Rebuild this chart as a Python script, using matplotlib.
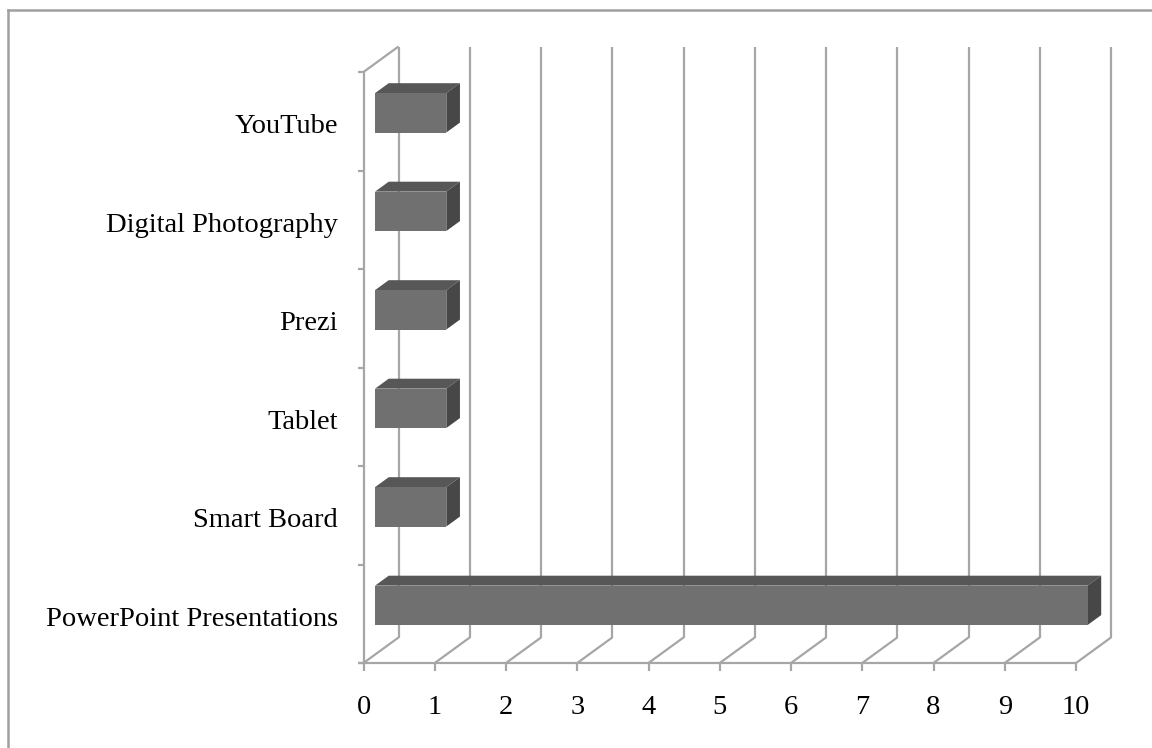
"""Pseudo-3D horizontal bar chart of classroom technology use."""
import matplotlib
matplotlib.use("Agg")
import matplotlib.pyplot as plt
from matplotlib.patches import Polygon
from matplotlib.lines import Line2D

categories = ["PowerPoint Presentations", "Smart Board", "Tablet", "Prezi",
              "Digital Photography", "YouTube"]
values = [10, 1, 1, 1, 1, 1]
x_ticks = list(range(0, 11))

W, H = 1152, 748
X0, SX = 363.5, 71.25      # pixel of value 0 on the front edge, px per unit
Y0, SY = 663.0, 98.5       # pixel of floor front edge, px per category
DX, DY = 35 / SX, 25.5 / SY  # full depth offset in data units
D_FRONT, D_BACK = 0.33, 0.72
BAR_HALF = 0.2
GRID = "#a6a6a6"
FONT = "Liberation Serif"


def proj(v, c, d):
    return (v + d * DX, c + d * DY)


def seg(ax, p, q, **kw):
    ax.plot([p[0], q[0]], [p[1], q[1]], color=GRID, lw=1.6,
            solid_capstyle="butt", zorder=1, **kw)


fig = plt.figure(figsize=(W / 100, H / 100), dpi=100)
ax = fig.add_axes([0, 0, 1, 1])
ax.set_xlim(-X0 / SX, (W - X0) / SX)
ax.set_ylim((Y0 - H) / SY, Y0 / SY)
ax.axis("off")

n = len(categories)
xmax = x_ticks[-1]

# back wall gridlines and floor lines
for t in x_ticks:
    seg(ax, proj(t, 0, 1), proj(t, n, 1))
    seg(ax, proj(t, 0, 0), proj(t, 0, 1))
    seg(ax, (t, 0), (t, -8 / SY))
seg(ax, proj(-6 / SX, 0, 0), proj(xmax, 0, 0))

# left wall
seg(ax, proj(0, 0, 0), proj(0, n, 0))
seg(ax, proj(0, n, 0), proj(0, n, 1))
for i in range(n + 1):
    seg(ax, (-6 / SX, i), (0, i))

# bars
for i, v in enumerate(values):
    c0, c1 = i + 0.5 - BAR_HALF, i + 0.5 + BAR_HALF
    top = [proj(0, c1, D_FRONT), proj(v, c1, D_FRONT),
           proj(v, c1, D_BACK), proj(0, c1, D_BACK)]
    side = [proj(v, c0, D_FRONT), proj(v, c0, D_BACK),
            proj(v, c1, D_BACK), proj(v, c1, D_FRONT)]
    front = [proj(0, c0, D_FRONT), proj(v, c0, D_FRONT),
             proj(v, c1, D_FRONT), proj(0, c1, D_FRONT)]
    ax.add_patch(Polygon(top, closed=True, fc="#575757", ec="none", zorder=3))
    ax.add_patch(Polygon(side, closed=True, fc="#474747", ec="none", zorder=3))
    ax.add_patch(Polygon(front, closed=True, fc="#707070", ec="none", zorder=4))

# labels
for i, name in enumerate(categories):
    ax.text(-25.5 / SX, i + 0.38, name, ha="right", va="baseline",
            fontsize=20.5, family=FONT, color="black")
for t in x_ticks:
    ax.text(t, -51 / SY, str(t), ha="center", va="baseline",
            fontsize=20.5, family=FONT, color="black")

# outer frame
fig.add_artist(Line2D([8 / W, 8 / W], [0, 1 - 10 / H], transform=fig.transFigure,
                      color="#a0a0a0", lw=1.8))
fig.add_artist(Line2D([8 / W, 1], [1 - 10 / H, 1 - 10 / H], transform=fig.transFigure,
                      color="#a0a0a0", lw=1.8))

fig.savefig("out.png", dpi=100)
plt.close(fig)
